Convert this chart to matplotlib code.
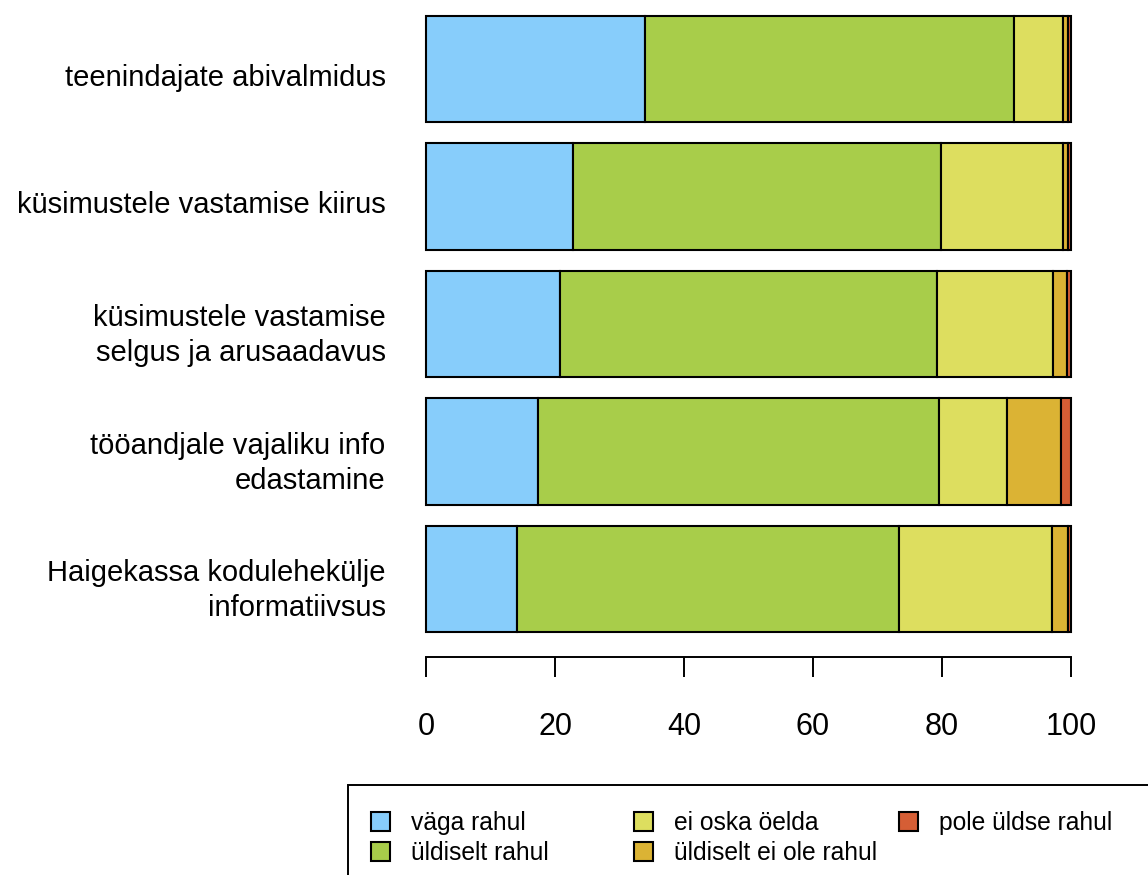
import numpy as np
import matplotlib.pyplot as plt
import matplotlib.transforms as mtransforms
from matplotlib.patches import Rectangle

plt.rcParams['font.family'] = ['Liberation Sans', 'DejaVu Sans']

# survey items, top to bottom
categories = ['teenindajate abivalmidus',
              'küsimustele vastamise kiirus',
              'küsimustele vastamise\nselgus ja arusaadavus',
              'tööandjale vajaliku info\nedastamine',
              'Haigekassa kodulehekülje\ninformatiivsus']

series = ['väga rahul', 'üldiselt rahul', 'ei oska öelda',
          'üldiselt ei ole rahul', 'pole üldse rahul']

# percentages per answer (same order as categories)
vaga_rahul = [34.0, 22.8, 20.8, 17.4, 14.1]
uldiselt_rahul = [57.2, 57.0, 58.4, 62.1, 59.2]
ei_oska = [7.5, 18.9, 18.0, 10.5, 23.7]
uldiselt_ei_ole = [0.8, 0.8, 2.2, 8.4, 2.5]
pole_uldse = [0.5, 0.5, 0.6, 1.6, 0.5]

colors = ['#87CDFB', '#A8CD4A', '#DDDE5F', '#DBB334', '#D55E35']

values = [vaga_rahul, uldiselt_rahul, ei_oska, uldiselt_ei_ole, pole_uldse]

fig = plt.figure(figsize=(11.48, 8.75), dpi=100)
# axes spans bar area: x 426..1071 px, y 16..632 px
ax = fig.add_axes([426 / 1148, 1 - 632 / 875, (1071 - 426) / 1148, (632 - 16) / 875])

ypos = np.arange(len(categories)) * 1.2
left = np.zeros(len(categories))
for name, vals, col in zip(series, values, colors):
    ax.barh(ypos, vals, left=left, height=1.0, color=col, edgecolor='black',
            linewidth=1.5, label=name, clip_on=False)
    left += np.array(vals)

ax.set_xlim(0, 100)
ax.set_ylim(ypos[-1] + 0.5, -0.5)
ax.set_yticks(ypos)
ax.set_yticklabels(categories, fontsize=21, ha='right', multialignment='right',
                   linespacing=1.3)
ax.tick_params(axis='y', length=0, pad=29)
# R puts the labels a little lower than the bar centre
shift = mtransforms.ScaledTranslation(0, -0.055, fig.dpi_scale_trans)
for lab in ax.get_yticklabels():
    lab.set_transform(lab.get_transform() + shift)

ax.set_xticks([0, 20, 40, 60, 80, 100])
ax.tick_params(axis='x', length=14.4, width=1.4, labelsize=22, pad=25)
for s in ['top', 'right', 'left']:
    ax.spines[s].set_visible(False)
ax.spines['bottom'].set_position(('outward', 18))
ax.spines['bottom'].set_linewidth(1.4)

# legend box (runs off the right and bottom edge like the original)
fig.patches.append(Rectangle((348 / 1148, -0.05), 0.8, (875 - 785) / 875 + 0.05,
                             transform=fig.transFigure, facecolor='none',
                             edgecolor='black', linewidth=1.4, clip_on=False))
handles, labels = ax.get_legend_handles_labels()
columns = [[0, 1], [2, 3], [4]]
col_x = [371, 634, 899]
for idx, x in zip(columns, col_x):
    leg = fig.legend([handles[i] for i in idx], [labels[i] for i in idx],
                     loc='upper left', bbox_to_anchor=(x / 1148, 1 - 811 / 875),
                     frameon=False, fontsize=17.7, handlelength=0.77,
                     handleheight=0.77, labelspacing=0.25, handletextpad=0.85,
                     borderaxespad=0, borderpad=0)

fig.savefig('out.png', dpi=100)
